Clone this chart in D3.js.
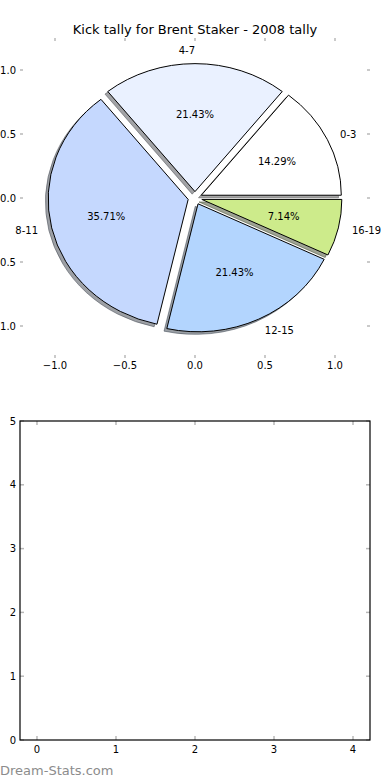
<!DOCTYPE html>
<html>
<head>
<meta charset="utf-8">
<script src="https://cdn.jsdelivr.net/npm/d3@7"></script>
<style>
  html, body { margin: 0; padding: 0; background: #fff; }
  svg { display: block; font-family: "DejaVu Sans", sans-serif; }
</style>
</head>
<body>
<svg id="chart" width="390" height="780"></svg>
<script>
// ---- data ----
const title = "Kick tally for Brent Staker - 2008 tally";
const categories = ["0-3", "4-7", "8-11", "12-15", "16-19"];
const values = [2, 3, 5, 3, 1];
const palette = ["#ffffff", "#eaf1ff", "#c5d8fe", "#b3d5fe", "#cdeb8b"];
const pieXTicks = [-1.0, -0.5, 0.0, 0.5, 1.0];
const pieYTicks = [-1.0, -0.5, 0.0, 0.5, 1.0];
const barXTicks = [0, 1, 2, 3, 4];
const barYTicks = [0, 1, 2, 3, 4, 5];
const watermark = "Dream-Stats.com";

const svg = d3.select("#chart");
const tickColor = "#b8b8b8";

// ---- pie axes ----
const px = d3.scaleLinear().domain([-1.25, 1.25]).range([20, 370]);
const py = d3.scaleLinear().domain([-1.25, 1.25]).range([358, 38]);
const sx = px(1) - px(0), sy = py(0) - py(1);
const explode = 0.05, labelDist = 1.1, pctDist = 0.6;

svg.append("text").attr("x", 195).attr("y", 34).attr("text-anchor", "middle")
  .attr("font-size", 13).text(title);

// d3.pie angles: clockwise from 12 o'clock; matplotlib: ccw from 3 o'clock
const pie = d3.pie().sort(null).startAngle(Math.PI / 2).endAngle(Math.PI / 2 - 2 * Math.PI);
const arcs = pie(values);
const arcGen = d3.arc().innerRadius(0).outerRadius(1);
const total = d3.sum(values);

const pieG = svg.append("g");
// shadows first
arcs.forEach((a, i) => {
  const am = (a.startAngle + a.endAngle) / 2;
  const th = Math.PI / 2 - am;
  const cx = px(explode * Math.cos(th) - 0.02), cy = py(explode * Math.sin(th) - 0.02);
  const c = d3.rgb(palette[i]);
  const sc = d3.rgb(c.r * 0.3, c.g * 0.3, c.b * 0.3);
  pieG.append("path")
    .attr("d", arcGen(a))
    .attr("transform", `translate(${cx},${cy}) scale(${sx},${sy})`)
    .attr("fill", sc).attr("fill-opacity", 0.5)
    .attr("stroke", sc).attr("stroke-opacity", 0.5)
    .attr("stroke-width", 1).attr("vector-effect", "non-scaling-stroke");
});
arcs.forEach((a, i) => {
  const am = (a.startAngle + a.endAngle) / 2;
  const th = Math.PI / 2 - am;
  const ox = explode * Math.cos(th), oy = explode * Math.sin(th);
  pieG.append("path")
    .attr("d", arcGen(a))
    .attr("transform", `translate(${px(ox)},${py(oy)}) scale(${sx},${sy})`)
    .attr("fill", palette[i])
    .attr("stroke", "#000").attr("stroke-width", 1)
    .attr("vector-effect", "non-scaling-stroke");
  const lx = ox + labelDist * Math.cos(th), ly = oy + labelDist * Math.sin(th);
  svg.append("text")
    .attr("x", px(lx)).attr("y", py(ly)).attr("dy", "0.35em")
    .attr("text-anchor", Math.cos(th) > 1e-6 ? "start" : "end")
    .attr("font-size", 10).text(categories[i]);
  const tx = ox + pctDist * Math.cos(th), ty = oy + pctDist * Math.sin(th);
  svg.append("text")
    .attr("x", px(tx)).attr("y", py(ty)).attr("dy", "0.35em")
    .attr("text-anchor", "middle")
    .attr("font-size", 10).text((values[i] / total * 100).toFixed(2) + "%");
});

// pie ticks (no frame)
const fmt1 = d3.format(".1f");
const minus = s => s.replace("-", "\u2212");
pieXTicks.forEach(t => {
  const x = px(t);
  svg.append("line").attr("x1", x).attr("x2", x).attr("y1", py.range()[1]).attr("y2", py.range()[1] + 3)
    .attr("stroke", tickColor).attr("stroke-width", 1.5);
  svg.append("line").attr("x1", x).attr("x2", x).attr("y1", py.range()[0]).attr("y2", py.range()[0] - 3)
    .attr("stroke", tickColor).attr("stroke-width", 1.5);
  svg.append("text").attr("x", x).attr("y", py.range()[0] + 11).attr("text-anchor", "middle")
    .attr("font-size", 10).text(minus(fmt1(t)));
});
pieYTicks.forEach(t => {
  const y = py(t);
  svg.append("line").attr("x1", px.range()[0]).attr("x2", px.range()[0] + 3).attr("y1", y).attr("y2", y)
    .attr("stroke", tickColor).attr("stroke-width", 1.5);
  svg.append("line").attr("x1", px.range()[1]).attr("x2", px.range()[1] - 3).attr("y1", y).attr("y2", y)
    .attr("stroke", tickColor).attr("stroke-width", 1.5);
  svg.append("text").attr("x", 16).attr("y", y).attr("dy", "0.35em").attr("text-anchor", "end")
    .attr("font-size", 10).text(minus(fmt1(t)));
});

// ---- empty second axes ----
const bx = d3.scaleLinear().domain([-0.215, 4.215]).range([20, 370]);
const by = d3.scaleLinear().domain([0, 5]).range([740, 421]);
const bg = svg.append("g");
barXTicks.forEach(t => {
  const x = bx(t);
  bg.append("line").attr("x1", x).attr("x2", x).attr("y1", by(5)).attr("y2", by(5) + 4)
    .attr("stroke", tickColor).attr("stroke-width", 1.5);
  bg.append("line").attr("x1", x).attr("x2", x).attr("y1", by(0)).attr("y2", by(0) - 4)
    .attr("stroke", tickColor).attr("stroke-width", 1.5);
  bg.append("text").attr("x", x).attr("y", by(0) + 13).attr("text-anchor", "middle")
    .attr("font-size", 10).text(t);
});
barYTicks.forEach(t => {
  const y = by(t);
  bg.append("line").attr("x1", bx.range()[0]).attr("x2", bx.range()[0] + 4).attr("y1", y).attr("y2", y)
    .attr("stroke", tickColor).attr("stroke-width", 1.5);
  bg.append("line").attr("x1", bx.range()[1]).attr("x2", bx.range()[1] - 4).attr("y1", y).attr("y2", y)
    .attr("stroke", tickColor).attr("stroke-width", 1.5);
  bg.append("text").attr("x", 16).attr("y", y).attr("dy", "0.35em").attr("text-anchor", "end")
    .attr("font-size", 10).text(t);
});
bg.append("rect").attr("x", bx.range()[0]).attr("y", by(5))
  .attr("width", bx.range()[1] - bx.range()[0]).attr("height", by(0) - by(5))
  .attr("fill", "none").attr("stroke", "#000").attr("stroke-width", 1.2);

// watermark
svg.append("text").attr("x", 0).attr("y", 775).attr("font-size", 13)
  .attr("fill", "#8c8c8c").text(watermark);
</script>
</body>
</html>
